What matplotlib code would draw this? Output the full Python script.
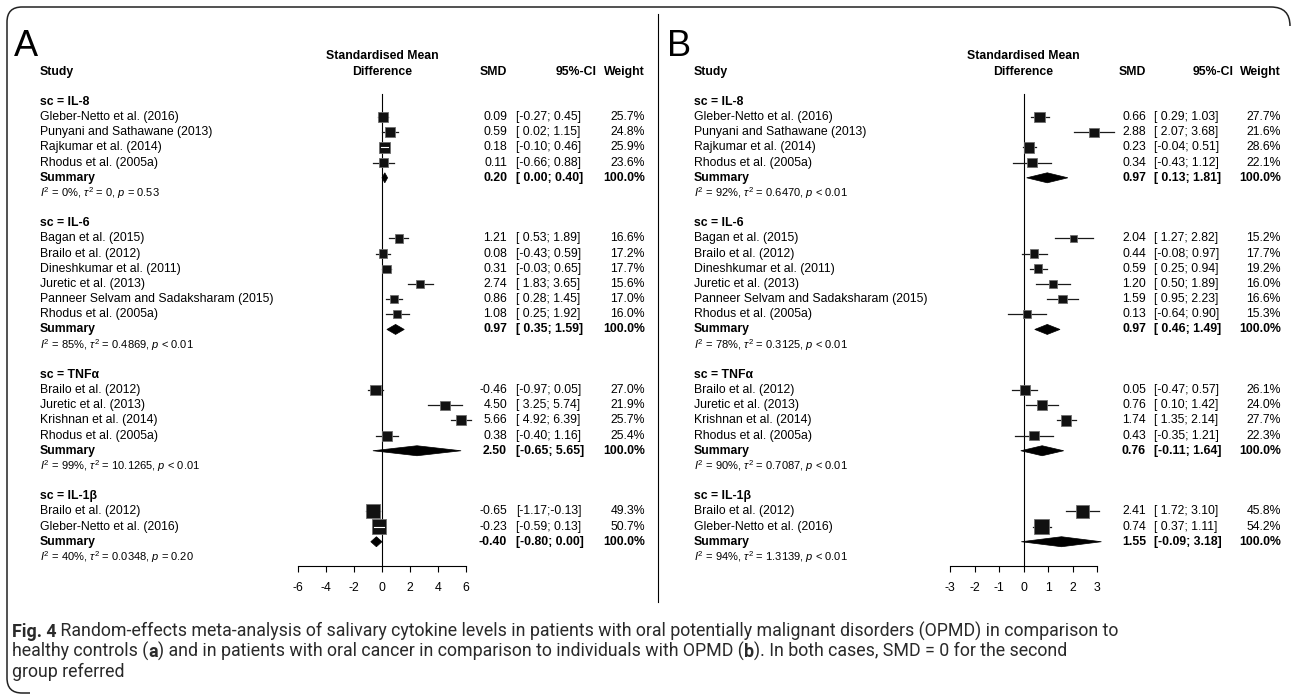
import numpy as np
import matplotlib
matplotlib.use("Agg")
import matplotlib.pyplot as plt
from matplotlib.transforms import blended_transform_factory
from matplotlib.patches import Rectangle, Polygon, PathPatch
from matplotlib.path import Path

plt.rcParams['font.family'] = ['Liberation Sans', 'DejaVu Sans']
plt.rcParams['mathtext.fontset'] = 'custom'
plt.rcParams['mathtext.rm'] = 'Liberation Sans'
plt.rcParams['mathtext.it'] = 'Liberation Sans:italic'
plt.rcParams['axes.unicode_minus'] = False

# ---- data ----
groups = ["IL-8", "IL-6", "TNFα", "IL-1β"]
studies = [
    ["Gleber-Netto et al. (2016)", "Punyani and Sathawane (2013)",
     "Rajkumar et al. (2014)", "Rhodus et al. (2005a)"],
    ["Bagan et al. (2015)", "Brailo et al. (2012)", "Dineshkumar et al. (2011)",
     "Juretic et al. (2013)", "Panneer Selvam and Sadaksharam (2015)", "Rhodus et al. (2005a)"],
    ["Brailo et al. (2012)", "Juretic et al. (2013)", "Krishnan et al. (2014)",
     "Rhodus et al. (2005a)"],
    ["Brailo et al. (2012)", "Gleber-Netto et al. (2016)"],
]

# panel A: OPMD vs healthy controls
a_smd = [[0.09, 0.59, 0.18, 0.11],
         [1.21, 0.08, 0.31, 2.74, 0.86, 1.08],
         [-0.46, 4.50, 5.66, 0.38],
         [-0.65, -0.23]]
a_lo = [[-0.27, 0.02, -0.10, -0.66],
        [0.53, -0.43, -0.03, 1.83, 0.28, 0.25],
        [-0.97, 3.25, 4.92, -0.40],
        [-1.17, -0.59]]
a_hi = [[0.45, 1.15, 0.46, 0.88],
        [1.89, 0.59, 0.65, 3.65, 1.45, 1.92],
        [0.05, 5.74, 6.39, 1.16],
        [-0.13, 0.13]]
a_w = [[25.7, 24.8, 25.9, 23.6],
       [16.6, 17.2, 17.7, 15.6, 17.0, 16.0],
       [27.0, 21.9, 25.7, 25.4],
       [49.3, 50.7]]
a_sum = [0.20, 0.97, 2.50, -0.40]
a_sum_lo = [0.00, 0.35, -0.65, -0.80]
a_sum_hi = [0.40, 1.59, 5.65, 0.00]
a_i2 = [0, 85, 99, 40]
a_tau2 = ["0", "0.4869", "10.1265", "0.0348"]
a_p = ["= 0.53", "< 0.01", "< 0.01", "= 0.20"]

# panel B: oral cancer vs OPMD
b_smd = [[0.66, 2.88, 0.23, 0.34],
         [2.04, 0.44, 0.59, 1.20, 1.59, 0.13],
         [0.05, 0.76, 1.74, 0.43],
         [2.41, 0.74]]
b_lo = [[0.29, 2.07, -0.04, -0.43],
        [1.27, -0.08, 0.25, 0.50, 0.95, -0.64],
        [-0.47, 0.10, 1.35, -0.35],
        [1.72, 0.37]]
b_hi = [[1.03, 3.68, 0.51, 1.12],
        [2.82, 0.97, 0.94, 1.89, 2.23, 0.90],
        [0.57, 1.42, 2.14, 1.21],
        [3.10, 1.11]]
b_w = [[27.7, 21.6, 28.6, 22.1],
       [15.2, 17.7, 19.2, 16.0, 16.6, 15.3],
       [26.1, 24.0, 27.7, 22.3],
       [45.8, 54.2]]
b_sum = [0.97, 0.97, 0.76, 1.55]
b_sum_lo = [0.13, 0.46, -0.11, -0.09]
b_sum_hi = [1.81, 1.49, 1.64, 3.18]
b_i2 = [92, 78, 90, 94]
b_tau2 = ["0.6470", "0.3125", "0.7087", "1.3139"]
b_p = ["< 0.01", "< 0.01", "< 0.01", "< 0.01"]

a_ticks = [-6, -4, -2, 0, 2, 4, 6]
b_ticks = [-3, -2, -1, 0, 1, 2, 3]

W, H = 1292, 700
FS = 8.8
ROW0, DROW = 102.0, 15.17     # pixel y of first row, row spacing
YTOP, YBOT = -3.0, 30.6       # row range of the forest axes
AXIS_PX = 566.0

fig = plt.figure(figsize=(W / 100, H / 100), dpi=100)

# overlay in pixel coordinates for frame / caption
ov = fig.add_axes([0, 0, 1, 1])
ov.set_xlim(0, W)
ov.set_ylim(H, 0)
ov.axis('off')


def ci_text(lo, hi):
    return "[%5.2f;%5.2f]" % (lo, hi)


def panel(letter, letter_x, zero_px, ppu, ticks, cols, smd, lo, hi, w, s, s_lo, s_hi, i2, tau2, p):
    xmin, xmax = ticks[0], ticks[-1]
    left = zero_px + xmin * ppu
    right = zero_px + xmax * ppu
    top = ROW0 + YTOP * DROW
    ax = fig.add_axes([left / W, 1 - AXIS_PX / H, (right - left) / W, (AXIS_PX - top) / H])
    ax.set_xlim(xmin, xmax)
    ax.set_ylim(YBOT, YTOP)
    ax.patch.set_alpha(0)
    for sp in ['top', 'left', 'right']:
        ax.spines[sp].set_visible(False)
    ax.spines['bottom'].set_linewidth(0.8)
    ax.set_yticks([])
    ax.set_xticks(ticks)
    ax.set_xticklabels([str(t) for t in ticks])
    ax.tick_params(axis='x', direction='out', length=4.5, width=0.8, pad=7, labelsize=FS)
    ax.axvline(0, ymin=0, ymax=(YBOT + 0.5) / (YBOT - YTOP), color='black', lw=0.8, zorder=1)

    tr = blended_transform_factory(fig.transFigure, ax.transData)
    lab_x, smd_r, ci_l, cih_r, w_r = [c / W for c in cols]

    ov.text(letter_x, 56, letter, fontsize=26, ha='left', va='baseline')
    ax.text(0, -3, "Standardised Mean", ha='center', va='center', fontsize=FS,
            fontweight='bold')
    ax.text(0, -2, "Difference", ha='center', va='center', fontsize=FS, fontweight='bold')
    ax.text(lab_x, -2, "Study", transform=tr, ha='left', va='center', fontsize=FS, fontweight='bold')
    ax.text(smd_r, -2, "SMD", transform=tr, ha='right', va='center', fontsize=FS, fontweight='bold')
    ax.text(cih_r, -2, "95%-CI", transform=tr, ha='right', va='center', fontsize=FS, fontweight='bold')
    ax.text(w_r, -2, "Weight", transform=tr, ha='right', va='center', fontsize=FS, fontweight='bold')

    row = 0
    for g in range(len(groups)):
        ax.text(lab_x, row, "sc = " + groups[g], transform=tr, ha='left', va='center',
                fontsize=FS, fontweight='bold')
        row += 1
        for k in range(len(studies[g])):
            ax.text(lab_x, row, studies[g][k], transform=tr, ha='left', va='center', fontsize=FS)
            ax.text(smd_r, row, "%.2f" % smd[g][k], transform=tr, ha='right', va='center', fontsize=FS)
            ax.text(ci_l, row, ci_text(lo[g][k], hi[g][k]), transform=tr, ha='left', va='center', fontsize=FS)
            ax.text(w_r, row, "%.1f%%" % w[g][k], transform=tr, ha='right', va='center', fontsize=FS)
            ax.plot([lo[g][k], hi[g][k]], [row, row], color='#1a1a1a', lw=0.9, clip_on=False, zorder=2)
            side = 2.0 * np.sqrt(w[g][k])
            hx = side / 2 / ppu
            hy = side / 2 / DROW
            ax.add_patch(Rectangle((smd[g][k] - hx, row - hy), 2 * hx, 2 * hy, facecolor='#111111',
                                   edgecolor='#6e6e6e', lw=0.6, clip_on=False, zorder=3))
            if lo[g][k] > smd[g][k] - hx + 0.5 / ppu and hi[g][k] < smd[g][k] + hx - 0.5 / ppu:
                ax.plot([lo[g][k], hi[g][k]], [row, row], color='white', lw=0.8, clip_on=False, zorder=4)
            row += 1
        ax.text(lab_x, row, "Summary", transform=tr, ha='left', va='center', fontsize=FS, fontweight='bold')
        ax.text(smd_r, row, "%.2f" % s[g], transform=tr, ha='right', va='center', fontsize=FS, fontweight='bold')
        ax.text(ci_l, row, ci_text(s_lo[g], s_hi[g]), transform=tr, ha='left', va='center', fontsize=FS,
                fontweight='bold')
        ax.text(w_r, row, "100.0%", transform=tr, ha='right', va='center', fontsize=FS, fontweight='bold')
        h = 0.33
        ax.add_patch(Polygon([(s_lo[g], row), (s[g], row - h), (s_hi[g], row), (s[g], row + h)],
                             closed=True, facecolor='black', edgecolor='black', lw=0.5,
                             clip_on=False, zorder=3))
        row += 1
        het = r"$I^2$ = %d%%, $\tau^2$ = %s, $p$ %s" % (i2[g], tau2[g], p[g])
        ax.text(lab_x, row, het, transform=tr, ha='left', va='center', fontsize=8.0)
        row += 2
    return ax


panel("A", 14, 382.0, 14.0, a_ticks, [40, 507, 516, 597, 645],
      a_smd, a_lo, a_hi, a_w, a_sum, a_sum_lo, a_sum_hi, a_i2, a_tau2, a_p)
panel("B", 667, 1023.5, 24.5, b_ticks, [694, 1146, 1154, 1234, 1281],
      b_smd, b_lo, b_hi, b_w, b_sum, b_sum_lo, b_sum_hi, b_i2, b_tau2, b_p)

# frame and divider
verts = [(1290, 26), (1290, 7), (1271, 7), (22, 7), (7, 7), (7, 22),
         (7, 678), (7, 693), (22, 693), (30, 693)]
codes = [Path.MOVETO, Path.CURVE3, Path.CURVE3, Path.LINETO, Path.CURVE3, Path.CURVE3,
         Path.LINETO, Path.CURVE3, Path.CURVE3, Path.LINETO]
ov.add_patch(PathPatch(Path(verts, codes), facecolor='none', edgecolor='#222222', lw=1.1))
ov.plot([658, 658], [14, 602], color='black', lw=0.8)

# caption
cap_lines = [
    [("Fig. 4", 'bold'), (" Random-effects meta-analysis of salivary cytokine levels in patients with oral "
                          "potentially malignant disorders (OPMD) in comparison to", 'normal')],
    [("healthy controls (", 'normal'), ("a", 'bold'),
     (") and in patients with oral cancer in comparison to individuals with OPMD (", 'normal'),
     ("b", 'bold'), ("). In both cases, SMD = 0 for the second", 'normal')],
    [("group referred", 'normal')],
]
cap_base = [637, 657, 677]
renderer = fig.canvas.get_renderer()


def draw_line(line, yb, size):
    x = 12.0
    arts = []
    for txt, wt in line:
        t = ov.text(x, yb, txt, fontsize=size, family='Roboto', fontweight=wt,
                    color='#2a2a2a', ha='left', va='baseline')
        x += t.get_window_extent(renderer).width
        arts.append(t)
    return x - 12.0, arts


# fit size so the first line spans the caption width
w0, probe = draw_line(cap_lines[0], cap_base[0], 12)
for t in probe:
    t.remove()
cap_fs = 12 * 1100.0 / w0

for line, yb in zip(cap_lines, cap_base):
    draw_line(line, yb, cap_fs)

fig.savefig("out.png", dpi=100)
plt.close(fig)
